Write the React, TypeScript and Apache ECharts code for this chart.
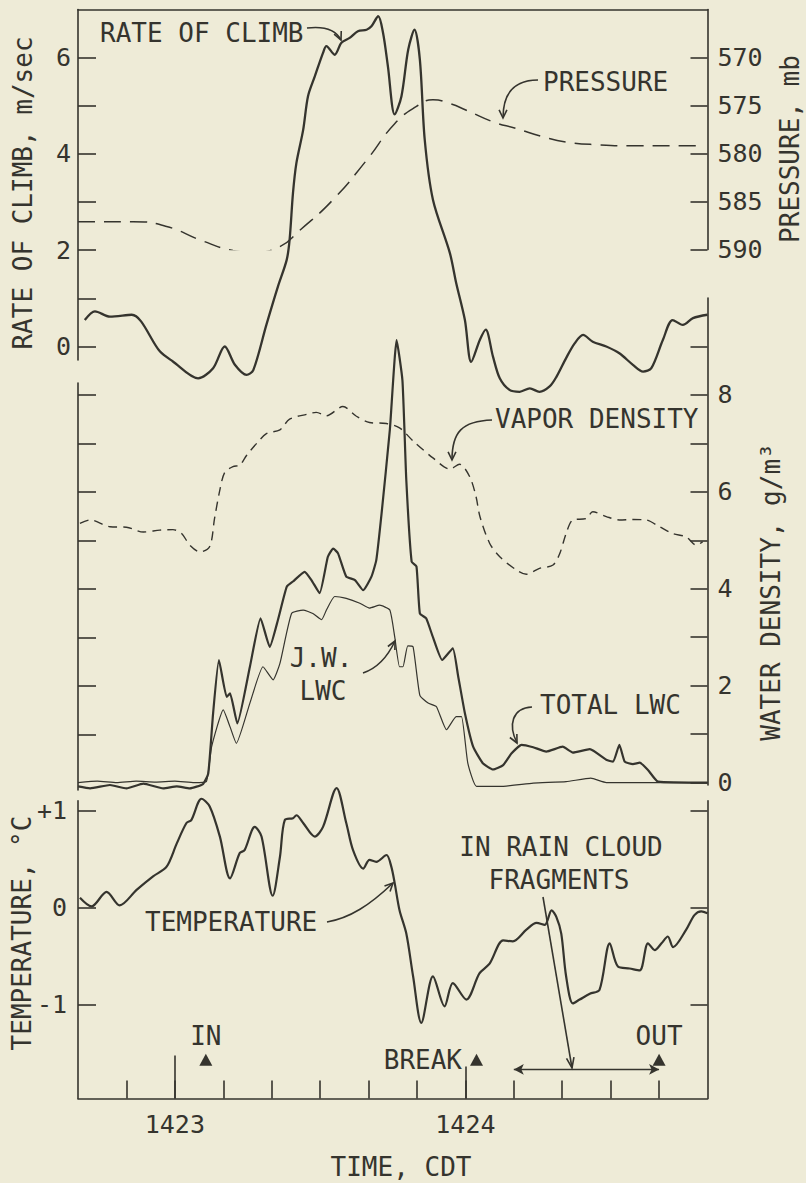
import React, { useEffect, useRef } from "react";
import * as echarts from "echarts";

type Pt = [number, number];

const INK = "#35342e";
const BG = "#eeebd7";
const FONT = "'DejaVu Sans Mono', 'Liberation Mono', monospace";

// time axis: seconds after 14:23:00 CDT
const X_MIN = -20;
const X_MAX = 110;
const timeTicks = [-10, 0, 10, 20, 30, 40, 50, 60, 70, 80, 90, 100];
const timeMajor = [0, 60];
const timeLabels: Record<number, string> = { 0: "1423", 60: "1424" };

const climbTicks = [0, 1, 2, 3, 4, 5, 6];
const climbLabels = [0, 2, 4, 6];
const pressureTicks = [570, 575, 580, 585, 590];
const densityTicks = [0, 1, 2, 3, 4, 5, 6, 7, 8, 9];
const densityLabels = [0, 2, 4, 6, 8];
const densityLeftTicks = [1, 2, 3, 4, 5, 6, 7, 8];
const tempTicks = [-1, 0, 1];

// rate of climb, m/sec
const rateOfClimb: Pt[] = [
  [-18.6, 0.55], [-16.5, 0.73], [-13.4, 0.62], [-8.9, 0.66], [-3.1, -0.1], [-0.4, -0.31],
  [4.8, -0.66], [7.9, -0.45], [10.3, 0.0], [12.4, -0.38], [14.8, -0.59], [16.2, -0.49],
  [18.9, 0.45], [21.3, 1.25], [23.1, 1.8], [23.7, 2.22], [24.4, 3.19], [25.1, 3.81],
  [26.5, 4.5], [27.5, 5.2], [28.9, 5.61], [30.6, 6.1], [31.3, 6.24], [33.0, 6.06],
  [34.4, 6.31], [36.1, 6.41], [37.8, 6.55], [39.6, 6.58], [40.6, 6.65], [42.0, 6.86],
  [43.0, 6.51], [44.0, 5.82], [45.4, 4.82], [46.8, 5.2], [48.2, 6.17], [49.5, 6.58],
  [50.6, 5.96], [51.6, 4.3], [53.3, 3.05], [56.8, 1.94], [58.1, 1.32], [59.9, 0.55],
  [61.2, -0.32], [63.0, 0.14], [64.2, 0.35], [65.7, -0.21], [67.1, -0.66], [69.1, -0.9],
  [71.2, -0.94], [73.3, -0.87], [75.3, -0.94], [77.4, -0.83], [78.8, -0.63], [80.8, -0.24],
  [82.6, 0.07], [84.3, 0.24], [86.3, 0.1], [89.1, 0.0], [91.8, -0.14], [94.6, -0.38],
  [96.7, -0.52], [98.4, -0.45], [100.8, 0.14], [102.8, 0.55], [104.9, 0.45], [107.0, 0.59],
  [110, 0.66],
];

// pressure, mb
const pressure: Pt[] = [
  [-20, 587.1], [-8.6, 587.1], [-1.7, 587.6], [5.2, 589.0], [12.0, 590.1], [16.2, 590.3],
  [21.7, 589.7], [25.8, 588.0], [32.7, 584.8], [39.6, 580.7], [45.4, 576.9], [49.9, 575.1],
  [53.3, 574.4], [56.8, 574.8], [60.2, 575.5], [65.7, 576.7], [70.5, 577.4], [76.0, 578.25],
  [80.8, 578.8], [87.7, 579.1], [94.6, 579.2], [107.7, 579.2],
];

// vapor density, g/m3
const vaporDensity: Pt[] = [
  [-19.6, 5.35], [-17.5, 5.42], [-13.4, 5.28], [-10.0, 5.27], [-6.5, 5.17], [-3.1, 5.21],
  [-0.4, 5.22], [1.4, 5.14], [3.1, 4.9], [5.2, 4.76], [7.2, 4.87], [8.2, 5.45], [9.3, 6.04],
  [10.3, 6.4], [12.0, 6.52], [13.4, 6.55], [14.8, 6.75], [16.9, 7.0], [18.9, 7.2],
  [21.7, 7.28], [23.7, 7.5], [27.2, 7.6], [29.2, 7.64], [31.3, 7.57], [34.7, 7.76],
  [37.5, 7.56], [40.2, 7.43], [43.7, 7.41], [46.4, 7.32], [49.2, 7.05], [53.3, 6.7],
  [56.8, 6.47], [58.8, 6.57], [60.9, 6.31], [62.2, 5.9], [63.0, 5.49], [65.0, 4.94],
  [67.1, 4.66], [70.5, 4.39], [72.6, 4.3], [75.3, 4.42], [78.1, 4.49], [79.5, 4.73],
  [80.8, 5.14], [82.2, 5.42], [85.0, 5.45], [86.3, 5.59], [89.1, 5.49], [91.8, 5.42],
  [94.6, 5.43], [97.3, 5.42], [100.1, 5.28], [102.8, 5.14], [105.6, 5.07], [107.7, 4.9],
  [109.0, 4.97],
];

// total liquid water content, g/m3
const totalLWC: Pt[] = [
  [-20, -0.08], [-17.5, -0.12], [-13.4, -0.05], [-10, -0.12], [-6.5, -0.02], [-2.4, -0.12],
  [0.4, -0.08], [3.1, -0.12], [5.8, -0.03], [6.9, 0.19], [7.9, 1.43], [9.1, 2.53],
  [10.7, 1.77], [11.4, 1.84], [12.9, 1.22], [15.5, 2.39], [17.7, 3.39], [19.6, 2.8],
  [21.3, 3.36], [23.1, 4.04], [24.4, 4.15], [26.8, 4.35], [28.2, 4.18], [29.9, 3.91],
  [31.6, 4.66], [32.7, 4.83], [33.7, 4.73], [35.4, 4.25], [37.2, 4.18], [38.9, 3.97],
  [40.6, 4.25], [41.6, 4.59], [42.7, 5.56], [44.4, 7.28], [45.8, 9.13], [47.0, 8.3],
  [47.8, 6.24], [48.9, 4.56], [49.9, 4.46], [50.6, 3.49], [51.9, 3.39], [53.3, 3.0],
  [55.2, 2.53], [57.4, 2.77], [58.5, 2.2], [59.9, 1.43], [61.6, 0.74], [63.6, 0.4],
  [65.7, 0.27], [67.8, 0.36], [69.5, 0.6], [71.6, 0.78], [74.0, 0.73], [76.7, 0.64],
  [80.1, 0.74], [82.2, 0.62], [85.7, 0.69], [89.1, 0.47], [90.5, 0.43], [91.8, 0.78],
  [92.9, 0.43], [94.6, 0.38], [96.0, 0.41], [97.7, 0.26], [99.8, 0.02], [110, 0.0],
];

// Johnson-Williams liquid water content, g/m3
const jwLWC: Pt[] = [
  [-20, 0.0], [-16, 0.03], [-12, 0.0], [-8, 0.03], [-4, 0.01], [0, 0.03], [4, 0.0],
  [6.5, 0.02], [7.6, 0.74], [10.0, 1.5], [11.4, 1.15], [12.7, 0.81], [15.5, 1.64],
  [18.2, 2.39], [20.3, 2.12], [21.7, 2.46], [24.1, 3.49], [26.5, 3.56], [28.5, 3.49],
  [30.3, 3.36], [31.3, 3.56], [33.0, 3.84], [35.4, 3.8], [38.2, 3.7], [40.2, 3.6],
  [42.3, 3.66], [44.4, 3.56], [45.4, 3.01], [46.4, 2.39], [47.1, 2.39], [48.1, 2.82],
  [49.2, 2.8], [50.6, 1.8], [52.3, 1.64], [54.0, 1.57], [56.1, 1.09], [58.1, 1.36],
  [59.2, 1.36], [60.5, 0.4], [62.3, -0.08], [67.1, -0.08], [74.0, -0.01], [80.8, 0.02],
  [85.9, 0.09], [89.1, 0.0], [110, 0.0],
];

// temperature, deg C
const temperature: Pt[] = [
  [-19.6, 0.1], [-17.2, 0.01], [-14.1, 0.16], [-11.4, 0.02], [-7.9, 0.18], [-4.5, 0.32],
  [-1.7, 0.42], [0.4, 0.66], [2.4, 0.87], [3.4, 0.9], [5.5, 1.12], [7.2, 1.04], [9.3, 0.73],
  [11.4, 0.3], [13.4, 0.56], [14.4, 0.59], [16.5, 0.83], [17.9, 0.73], [20.2, 0.12],
  [21.7, 0.52], [22.7, 0.9], [24.4, 0.92], [25.1, 0.95], [26.5, 0.87], [28.9, 0.73],
  [30.6, 0.83], [33.4, 1.23], [35.4, 0.87], [36.8, 0.59], [38.9, 0.4], [40.2, 0.49],
  [41.6, 0.47], [43.7, 0.54], [44.7, 0.42], [45.4, 0.25], [46.4, -0.03], [47.8, -0.27],
  [49.2, -0.71], [50.9, -1.19], [53.3, -0.71], [55.7, -1.02], [57.4, -0.78], [60.2, -0.95],
  [62.9, -0.68], [65.0, -0.58], [67.8, -0.34], [69.8, -0.35], [72.6, -0.23], [74.7, -0.16],
  [76.4, -0.18], [77.8, -0.03], [78.8, -0.1], [79.8, -0.27], [80.8, -0.71], [82.2, -0.99],
  [83.6, -0.95], [85.7, -0.89], [87.7, -0.85], [89.8, -0.37], [91.5, -0.61], [93.9, -0.63],
  [96.0, -0.65], [97.7, -0.37], [99.1, -0.44], [100.5, -0.37], [101.8, -0.3], [102.9, -0.41],
  [105.6, -0.23], [107.3, -0.08], [108.7, -0.04], [110, -0.06],
];

const eventNames = ["IN", "BREAK", "OUT"];
const eventTimes = [6.4, 62.3, 100];
const eventLabelPos = ["top", "left", "top"];
const EVENT_LEVEL = -1.57;
const rainStart = 70;
const rainEnd = 100;
const RAIN_LEVEL = -1.67;

const GRID_LEFT = 78;
const GRID_RIGHT = 98.5;

function grid(top: number, height: number) {
  return { left: GRID_LEFT, right: GRID_RIGHT, top, height, containLabel: false, outerBoundsMode: "none" };
}

const axisLine = { show: true, onZero: false, lineStyle: { color: INK, width: 1.6 } };
const labelStyle = { color: INK, fontSize: 25, fontFamily: FONT };

function hiddenX(gridIndex: number) {
  return { type: "value", gridIndex, min: X_MIN, max: X_MAX, show: false };
}

function arrowHead(tip: Pt, dir: Pt, size = 9, ang = 0.45) {
  const len = Math.hypot(dir[0], dir[1]);
  const ux = dir[0] / len;
  const uy = dir[1] / len;
  const rot = (a: number): Pt => [ux * Math.cos(a) - uy * Math.sin(a), ux * Math.sin(a) + uy * Math.cos(a)];
  const r1 = rot(ang);
  const r2 = rot(-ang);
  return {
    type: "polyline",
    silent: true,
    shape: {
      points: [
        [tip[0] - size * r1[0], tip[1] - size * r1[1]],
        tip,
        [tip[0] - size * r2[0], tip[1] - size * r2[1]],
      ],
    },
    style: { stroke: INK, lineWidth: 1.6, fill: null },
  };
}

function curve(p0: Pt, c1: Pt, c2: Pt, p1: Pt) {
  return {
    type: "bezierCurve",
    silent: true,
    shape: { x1: p0[0], y1: p0[1], cpx1: c1[0], cpy1: c1[1], cpx2: c2[0], cpy2: c2[1], x2: p1[0], y2: p1[1] },
    style: { stroke: INK, lineWidth: 1.6, fill: null },
  };
}

function txt(text: string, x: number, y: number, align = "left", rotation = 0, size = 26) {
  return {
    type: "text",
    silent: true,
    x,
    y,
    rotation,
    style: { text, fill: INK, fontSize: size, fontFamily: FONT, align, verticalAlign: "middle" },
  };
}

function buildOption() {
  const lineBase = { type: "line", symbol: "none", showSymbol: false, silent: true, animation: false };
  return {
    animation: false,
    backgroundColor: BG,
    grid: [
      grid(9.5, 350.5), // 0 rate of climb
      grid(9.5, 240), // 1 pressure
      grid(298, 487), // 2 water density (right)
      grid(383, 407), // 3 water density (left axis)
      grid(800.7, 297.8), // 4 temperature
      grid(800.7, 297.8), // 5 major time ticks (1423)
      grid(800.7, 297.8), // 6 major time ticks (1424)
    ],
    xAxis: [
      {
        type: "value", gridIndex: 0, min: X_MIN, max: X_MAX, position: "top",
        axisLine, axisTick: { show: false }, axisLabel: { show: false }, splitLine: { show: false },
      },
      hiddenX(1),
      hiddenX(2),
      hiddenX(3),
      {
        type: "value", gridIndex: 4, min: X_MIN, max: X_MAX, position: "bottom",
        axisLine,
        axisTick: { show: true, inside: true, length: 18, customValues: timeTicks, lineStyle: { color: INK, width: 1.6 } },
        axisLabel: { show: false },
        splitLine: { show: false },
      },
      {
        type: "value", gridIndex: 5, min: X_MIN, max: X_MAX, position: "bottom",
        axisLine: { show: false, onZero: false },
        axisTick: { show: true, inside: true, length: 43, customValues: [timeMajor[0]], lineStyle: { color: INK, width: 1.6 } },
        axisLabel: {
          show: true, customValues: timeMajor, margin: 13, ...labelStyle,
          formatter: (v: number) => timeLabels[v] ?? "",
        },
        splitLine: { show: false },
      },
      {
        type: "value", gridIndex: 6, min: X_MIN, max: X_MAX, position: "bottom",
        axisLine: { show: false, onZero: false },
        axisTick: { show: true, inside: true, length: 32, customValues: [timeMajor[1]], lineStyle: { color: INK, width: 1.6 } },
        axisLabel: { show: false },
        splitLine: { show: false },
      },
    ],
    yAxis: [
      {
        type: "value", gridIndex: 0, min: -0.28, max: 7, position: "left",
        axisLine,
        axisTick: { show: true, inside: true, length: 18, customValues: climbTicks, lineStyle: { color: INK, width: 1.6 } },
        axisLabel: { show: true, customValues: climbLabels, margin: 7, ...labelStyle },
        splitLine: { show: false },
      },
      {
        type: "value", gridIndex: 1, min: 565, max: 590, inverse: true, position: "right",
        axisLine,
        axisTick: { show: true, inside: true, length: 17, customValues: pressureTicks, lineStyle: { color: INK, width: 1.6 } },
        axisLabel: { show: true, customValues: pressureTicks, margin: 10, ...labelStyle },
        splitLine: { show: false },
      },
      {
        type: "value", gridIndex: 2, min: -0.05, max: 10, position: "right",
        axisLine,
        axisTick: { show: true, inside: true, length: 17, customValues: densityTicks, lineStyle: { color: INK, width: 1.6 } },
        axisLabel: { show: true, customValues: densityLabels, margin: 10, ...labelStyle },
        splitLine: { show: false },
      },
      {
        type: "value", gridIndex: 3, min: -0.15, max: 8.25, position: "left",
        axisLine,
        axisTick: { show: true, inside: true, length: 18, customValues: densityLeftTicks, lineStyle: { color: INK, width: 1.6 } },
        axisLabel: { show: false },
        splitLine: { show: false },
      },
      {
        type: "value", gridIndex: 4, min: -1.97, max: 1.1, position: "left",
        axisLine,
        axisTick: { show: true, inside: true, length: 18, customValues: tempTicks, lineStyle: { color: INK, width: 1.6 } },
        axisLabel: {
          show: true, customValues: tempTicks, margin: 11, ...labelStyle,
          formatter: (v: number) => (v > 0 ? `+${v}` : `${v}`),
        },
        splitLine: { show: false },
      },
      {
        type: "value", gridIndex: 4, min: -1.97, max: 1.1, position: "right",
        axisLine,
        axisTick: { show: true, inside: true, length: 17, customValues: tempTicks, lineStyle: { color: INK, width: 1.6 } },
        axisLabel: { show: false },
        splitLine: { show: false },
      },
      { type: "value", gridIndex: 5, min: 0, max: 1, show: false },
      { type: "value", gridIndex: 6, min: 0, max: 1, show: false },
    ],
    series: [
      {
        ...lineBase, name: "Pressure", xAxisIndex: 1, yAxisIndex: 1, data: pressure, smooth: 0.5,
        lineStyle: { color: INK, width: 1.5, type: [17, 9] },
      },
      {
        ...lineBase, name: "Rate of climb", xAxisIndex: 0, yAxisIndex: 0, data: rateOfClimb, smooth: 0.3, clip: false,
        lineStyle: { color: INK, width: 2.3 },
      },
      {
        ...lineBase, name: "Vapor density", xAxisIndex: 2, yAxisIndex: 2, data: vaporDensity, smooth: 0.3,
        lineStyle: { color: INK, width: 1.4, type: [9, 6] },
      },
      {
        ...lineBase, name: "J.W. LWC", xAxisIndex: 2, yAxisIndex: 2, data: jwLWC, smooth: 0.15, clip: false,
        lineStyle: { color: INK, width: 1.2 },
      },
      {
        ...lineBase, name: "Total LWC", xAxisIndex: 2, yAxisIndex: 2, data: totalLWC, smooth: 0.15, clip: false,
        lineStyle: { color: INK, width: 2.2 },
      },
      { ...lineBase, name: "axis", xAxisIndex: 3, yAxisIndex: 3, data: [] },
      {
        ...lineBase, name: "Temperature", xAxisIndex: 4, yAxisIndex: 4, data: temperature, smooth: 0.3, clip: false,
        lineStyle: { color: INK, width: 2.2 },
      },
      {
        type: "scatter", name: "Events", xAxisIndex: 4, yAxisIndex: 4, silent: true,
        symbol: "triangle", symbolSize: [13, 12],
        itemStyle: { color: INK, opacity: 1 },
        data: eventNames.map((n, i) => ({
          name: n,
          value: [eventTimes[i], EVENT_LEVEL],
          label: { position: eventLabelPos[i], distance: eventLabelPos[i] === "left" ? 8 : 5 },
        })),
        label: { show: true, formatter: "{b}", color: INK, opacity: 1, fontSize: 26, fontFamily: FONT },
        markLine: {
          silent: true,
          symbol: ["arrow", "arrow"],
          symbolSize: [8, 10],
          label: { show: false },
          lineStyle: { color: INK, width: 1.4, type: "solid", opacity: 1 },
          data: [[{ coord: [rainStart, RAIN_LEVEL] }, { coord: [rainEnd, RAIN_LEVEL] }]],
        },
      },
      { ...lineBase, name: "m5", xAxisIndex: 5, yAxisIndex: 6, data: [] },
      { ...lineBase, name: "m6", xAxisIndex: 6, yAxisIndex: 7, data: [] },
    ],
    graphic: [
      // axis names
      txt("RATE OF CLIMB, m/sec", 23, 193, "center", Math.PI / 2),
      txt("PRESSURE, mb", 790, 149, "center", Math.PI / 2),
      txt("WATER DENSITY, g/m³", 771, 592, "center", Math.PI / 2),
      txt("TEMPERATURE, °C", 22, 933, "center", Math.PI / 2),
      txt("TIME, CDT", 401, 1167, "center"),
      // annotations
      txt("RATE OF CLIMB", 100, 33),
      curve([307, 28], [324, 26], [336, 30], [341, 40]),
      arrowHead([341, 40], [0.45, 1]),
      txt("PRESSURE", 543, 82),
      curve([538, 80], [515, 80], [503, 92], [503, 118]),
      arrowHead([503, 118], [0, 1]),
      txt("VAPOR DENSITY", 495, 419),
      curve([492, 420], [462, 421], [452, 432], [452, 460]),
      arrowHead([452, 460], [0, 1]),
      txt("J.W.", 321, 658, "center"),
      txt("LWC", 323, 691, "center"),
      curve([363, 673], [378, 668], [388, 656], [395, 641]),
      arrowHead([395, 641], [0.45, -0.9]),
      txt("TOTAL LWC", 540, 705),
      curve([532, 707], [512, 708], [508, 725], [517, 743]),
      arrowHead([517, 743], [0.45, 0.9]),
      txt("TEMPERATURE", 145, 922),
      curve([327, 922], [350, 918], [370, 905], [393, 883]),
      arrowHead([393, 883], [0.7, -0.7]),
      txt("IN RAIN CLOUD", 561, 847, "center"),
      txt("FRAGMENTS", 559, 880, "center"),
      {
        type: "line", silent: true,
        shape: { x1: 543, y1: 897, x2: 572, y2: 1068 },
        style: { stroke: INK, lineWidth: 1.6 },
      },
      arrowHead([572, 1068], [0.17, 0.985], 11, 0.35),
    ],
  };
}

export default function App() {
  const ref = useRef<HTMLDivElement>(null);
  useEffect(() => {
    if (!ref.current) return;
    const chart = echarts.init(ref.current, null, { renderer: "svg" });
    chart.setOption(buildOption() as any);
    return () => chart.dispose();
  }, []);
  return (
    <div
      ref={ref}
      style={{ position: "absolute", left: 0, top: 0, width: 806, height: 1183, background: BG }}
    />
  );
}
